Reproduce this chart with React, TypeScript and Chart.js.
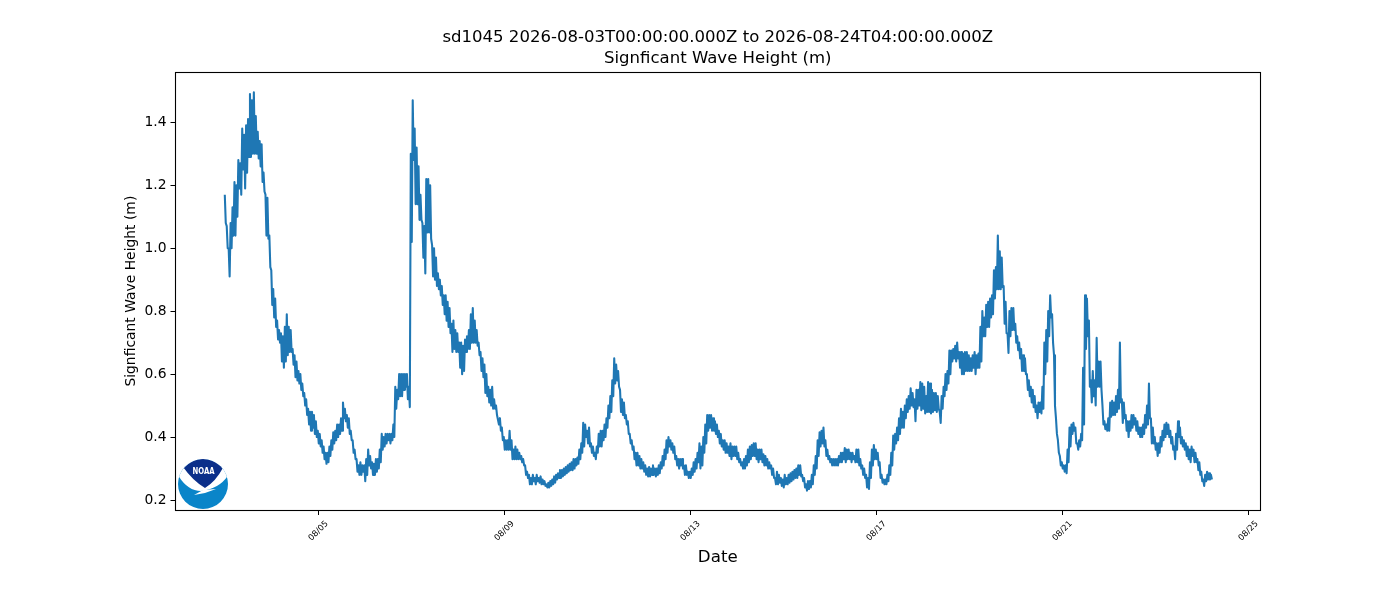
import React, { useEffect, useRef } from "react";
import { Chart, registerables } from "chart.js";

Chart.register(...registerables);

const titleLines = ["sd1045 2026-08-03T00:00:00.000Z to 2026-08-24T04:00:00.000Z", "Signficant Wave Height (m)"];
const xTitle = "Date";
const yTitle = "Signficant Wave Height (m)";
const tickDays = [5, 9, 13, 17, 21, 25];
const tickLabels = ["08/05", "08/09", "08/13", "08/17", "08/21", "08/25"];
const yTicks = [0.2, 0.4, 0.6, 0.8, 1.0, 1.2, 1.4];
const startDay = 2.974;

// half-hourly readings, high and low of the noisy band in turn
const aug03 = [1.17,1.08,1.07,1.00,1.00,0.91,1.08,1.00,1.13,1.04,1.21,1.04,1.20,1.10,1.28,1.19,1.27,1.17,1.38,1.25,1.36,1.19,1.39,1.24,1.41,1.29,1.49,1.29,1.47,1.30,1.495,1.30,1.42,1.30,1.37,1.285,1.34,1.26,1.33,1.21,1.24,1.18,1.17,1.04,1.16,1.03,1.04,0.94];
const aug04 = [.93,.82,.87,.78,.84,.75,.77,.71,.74,.70,.73,.64,.72,.62,.75,.64,.79,.66,.75,.67,.74,.67,.68,.63,.66,.59,.64,.58,.61,.57,.60,.55,.57,.53,.54,.50,.52,.47,.49,.44,.48,.42,.48,.43,.47,.41,.45,.40];
const aug05 = [.42,.38,.41,.37,.39,.35,.37,.33,.35,.315,.35,.32,.37,.34,.39,.36,.415,.38,.42,.39,.44,.40,.44,.41,.46,.42,.51,.46,.49,.45,.47,.43,.46,.41,.42,.39,.39,.35,.36,.33,.33,.29,.31,.28,.32,.28,.31,.29];
const aug06 = [.31,.26,.33,.28,.36,.31,.34,.30,.32,.28,.315,.28,.33,.29,.33,.30,.36,.32,.41,.36,.40,.37,.41,.38,.41,.39,.41,.38,.41,.39,.44,.40,.56,.49,.55,.52,.60,.53,.60,.53,.60,.55,.60,.56,.60,.52,.56,.495];
const aug07 = [1.30,1.02,1.47,1.28,1.38,1.14,1.32,1.14,1.26,1.09,1.17,1.09,1.08,.97,1.07,.92,1.22,1.05,1.22,1.05,1.20,1.03,1.01,.91,1.00,.90,.97,.88,.92,.87,.90,.85,.88,.82,.85,.79,.85,.77,.83,.75,.81,.73,.76,.67,.77,.68,.74,.67];
const aug08 = [.73,.67,.70,.62,.70,.60,.69,.61,.71,.67,.72,.68,.74,.68,.79,.70,.81,.70,.77,.70,.74,.69,.70,.66,.67,.61,.65,.59,.63,.54,.60,.53,.56,.51,.55,.50,.56,.49,.52,.49,.50,.47,.47,.44,.46,.42,.43,.39];
const aug09 = [.40,.36,.39,.36,.39,.36,.42,.36,.39,.33,.36,.33,.37,.33,.36,.33,.35,.33,.34,.32,.33,.31,.31,.28,.29,.27,.28,.25,.27,.25,.28,.26,.27,.25,.28,.26,.27,.255,.275,.25,.265,.25,.26,.245,.25,.24,.255,.24];
const aug10 = [.26,.245,.265,.25,.275,.255,.28,.265,.285,.27,.295,.27,.295,.275,.30,.28,.305,.285,.31,.29,.315,.295,.32,.295,.33,.30,.33,.31,.335,.315,.36,.33,.38,.35,.445,.37,.44,.40,.42,.38,.43,.37,.38,.35,.37,.34,.35,.33];
const aug11 = [.37,.35,.41,.37,.42,.37,.42,.39,.44,.40,.46,.43,.50,.46,.53,.48,.58,.53,.65,.57,.63,.58,.61,.56,.55,.48,.52,.47,.51,.46,.47,.44,.45,.41,.41,.38,.39,.36,.37,.33,.35,.31,.35,.31,.34,.30,.33,.30];
const aug12 = [.32,.29,.31,.28,.30,.275,.305,.275,.30,.28,.31,.28,.30,.275,.30,.28,.31,.285,.32,.30,.34,.31,.36,.33,.39,.35,.40,.37,.39,.36,.38,.35,.37,.33,.34,.31,.33,.30,.33,.31,.33,.30,.31,.28,.31,.28,.29,.27];
const aug13 = [.29,.27,.30,.28,.32,.29,.33,.30,.35,.32,.38,.30,.37,.31,.40,.35,.44,.38,.47,.42,.47,.43,.47,.42,.46,.42,.45,.41,.44,.40,.42,.38,.41,.37,.39,.36,.39,.35,.38,.35,.37,.34,.38,.33,.37,.34,.37,.34];
const aug14 = [.37,.33,.35,.32,.33,.31,.32,.30,.33,.30,.34,.31,.36,.32,.37,.33,.375,.34,.38,.34,.38,.33,.36,.32,.36,.33,.36,.32,.345,.31,.34,.31,.33,.30,.32,.30,.31,.28,.30,.27,.27,.25,.29,.25,.28,.255,.27,.245];
const aug15 = [.265,.24,.28,.25,.27,.25,.28,.255,.285,.26,.29,.265,.295,.27,.30,.27,.31,.28,.31,.275,.28,.26,.27,.24,.25,.23,.26,.235,.26,.24,.28,.25,.31,.28,.34,.30,.39,.34,.415,.37,.42,.38,.43,.37,.39,.34,.36,.33];
const aug16 = [.34,.32,.33,.31,.33,.31,.33,.31,.33,.31,.34,.32,.35,.32,.35,.33,.365,.32,.36,.33,.36,.33,.35,.32,.35,.33,.34,.32,.36,.32,.36,.31,.33,.30,.31,.28,.30,.27,.28,.24,.27,.235,.32,.27,.36,.31,.375,.33];
const aug17 = [.36,.33,.35,.31,.32,.27,.28,.255,.265,.25,.265,.25,.28,.26,.31,.28,.35,.31,.405,.36,.41,.38,.43,.39,.46,.41,.49,.43,.48,.43,.50,.46,.52,.48,.53,.49,.555,.50,.54,.495,.52,.45,.55,.49,.55,.50,.575,.485];
const aug18 = [.57,.49,.56,.475,.53,.48,.575,.48,.57,.475,.55,.48,.54,.485,.54,.48,.53,.49,.48,.445,.53,.49,.56,.53,.60,.55,.61,.57,.675,.60,.675,.64,.68,.65,.69,.64,.70,.65,.67,.62,.67,.60,.665,.60,.67,.61,.67,.61];
const aug19 = [.66,.61,.65,.61,.66,.62,.67,.60,.66,.62,.665,.62,.75,.64,.80,.72,.78,.72,.82,.75,.83,.75,.84,.78,.85,.79,.93,.84,.94,.87,1.04,.87,.99,.87,.97,.876,.88,.76,.83,.73,.73,.667,.80,.72,.81,.74,.81,.74];
const aug20 = [.76,.70,.72,.676,.70,.65,.68,.61,.66,.61,.65,.60,.60,.55,.58,.53,.56,.51,.55,.495,.53,.48,.50,.46,.51,.48,.51,.475,.56,.49,.70,.60,.74,.64,.80,.72,.85,.78,.79,.70,.66,.50,.46,.41,.39,.35,.34,.31];
const aug21 = [.32,.30,.31,.29,.31,.285,.36,.32,.43,.37,.44,.41,.445,.42,.43,.38,.38,.36,.39,.37,.41,.39,.62,.44,.85,.68,.84,.72,.77,.56,.58,.51,.61,.53,.58,.50,.715,.56,.64,.56,.64,.55,.50,.44,.45,.425,.44,.42];
const aug22 = [.46,.42,.51,.465,.515,.47,.51,.47,.53,.48,.55,.49,.70,.51,.52,.445,.51,.46,.47,.42,.45,.40,.45,.42,.47,.43,.47,.44,.46,.42,.45,.41,.43,.40,.43,.40,.44,.41,.47,.43,.50,.44,.57,.46,.46,.38,.43,.38];
const aug23 = [.40,.36,.38,.34,.38,.35,.40,.37,.42,.39,.44,.40,.445,.41,.44,.40,.42,.38,.40,.36,.37,.33,.41,.36,.45,.40,.43,.38,.40,.37,.39,.36,.38,.34,.37,.33,.36,.32,.37,.34,.36,.32,.35,.32,.33,.295,.32,.28];
const aug24 = [.29,.26,.265,.245,.28,.26,.29,.265,.285,.265,.28,.265];

const waveHeight = [...aug03,...aug04,...aug05,...aug06,...aug07,...aug08,...aug09,...aug10,...aug11,...aug12,...aug13,...aug14,...aug15,...aug16,...aug17,...aug18,...aug19,...aug20,...aug21,...aug22,...aug23,...aug24];

const FONT = '"DejaVu Sans", sans-serif';

const framePlugin = {
  id: "frame",
  afterDatasetsDraw(chart: any) {
    const { ctx, chartArea: a } = chart;
    const l = Math.floor(a.left) + 0.5, r = Math.floor(a.right) + 0.5;
    const t = Math.floor(a.top) + 0.5, b = Math.floor(a.bottom) + 0.5;
    ctx.save();
    ctx.strokeStyle = "#000";
    ctx.lineWidth = 1.1;
    ctx.strokeRect(l, t, r - l, b - t);
    ctx.restore();
  },
};

const logoPlugin = {
  id: "logo",
  afterDraw(chart: any) {
    const { ctx } = chart;
    const cx = 203, cy = 484, r = 25;
    ctx.save();
    ctx.beginPath();
    ctx.arc(cx, cy, r, 0, Math.PI * 2);
    ctx.fillStyle = "#0a85c9";
    ctx.fill();
    ctx.clip();
    ctx.beginPath();
    ctx.moveTo(170, 470);
    ctx.lineTo(178.5, 476);
    ctx.quadraticCurveTo(188, 491, 201, 491);
    ctx.quadraticCurveTo(220, 489, 229, 474);
    ctx.lineTo(232, 450);
    ctx.lineTo(170, 450);
    ctx.closePath();
    ctx.fillStyle = "#fff";
    ctx.fill();
    ctx.beginPath();
    ctx.moveTo(194, 495);
    ctx.lineTo(203, 490);
    ctx.lineTo(216, 489);
    ctx.lineTo(205, 493);
    ctx.closePath();
    ctx.fill();
    ctx.beginPath();
    const a1 = Math.atan2(466.5 - cy, 182.7 - cx);
    const a2 = Math.atan2(466.5 - cy, 225 - cx);
    ctx.arc(cx, cy, r, a1, a2);
    ctx.quadraticCurveTo(216, 481, 205, 488);
    ctx.quadraticCurveTo(193, 481, 182.7, 466.5);
    ctx.closePath();
    ctx.fillStyle = "#0b2f8a";
    ctx.fill();
    ctx.fillStyle = "#fff";
    ctx.font = "bold 8px " + FONT;
    ctx.textAlign = "center";
    ctx.textBaseline = "middle";
    ctx.fillText("NOAA", 203.5, 472, 22);
    ctx.restore();
  },
};

export default function App() {
  const ref = useRef<HTMLCanvasElement>(null);
  useEffect(() => {
    const points = waveHeight.map((y, i) => ({ x: startDay + i / 48, y }));
    const chart = new Chart(ref.current!, {
      type: "line",
      data: {
        datasets: [
          {
            data: points,
            borderColor: "#1f77b4",
            borderWidth: 2.08,
            borderJoinStyle: "round",
            pointRadius: 0,
            tension: 0,
            fill: false,
          },
        ],
      },
      plugins: [framePlugin, logoPlugin],
      options: {
        animation: false,
        responsive: false,
        devicePixelRatio: 1,
        layout: { padding: { right: 140, left: 0, top: 0, bottom: 0 } },
        plugins: {
          legend: { display: false },
          tooltip: { enabled: false },
          title: {
            display: true,
            text: titleLines,
            fullSize: false,
            color: "#000",
            font: { family: FONT, size: 16.55, weight: "normal", lineHeight: 1.26 },
            padding: { top: 27.5, bottom: 3.1 },
          },
        },
        scales: {
          x: {
            type: "linear",
            min: 1.914,
            max: 25.237,
            afterFit(scale: any) { scale.height = 90; },
            afterBuildTicks(scale: any) { scale.ticks = tickDays.map((value) => ({ value })); },
            grid: { drawOnChartArea: false, drawTicks: true, tickLength: 5, color: "#000", tickWidth: 1 },
            border: { display: false },
            title: {
              display: true,
              text: xTitle,
              color: "#000",
              font: { family: FONT, size: 16.67, weight: "normal" },
              padding: { top: 32, bottom: 32 },
            },
            ticks: {
              autoSkip: false,
              minRotation: 45,
              maxRotation: 45,
              color: "#000",
              font: { family: FONT, size: 8.33 },
              labelOffset: 8,
              padding: 4,
              callback: (_v: any, i: number) => tickLabels[i],
            },
          },
          y: {
            type: "linear",
            min: 0.1683,
            max: 1.5587,
            afterFit(scale: any) { scale.width = 175.5; },
            afterBuildTicks(scale: any) { scale.ticks = yTicks.map((value) => ({ value })); },
            grid: { drawOnChartArea: false, drawTicks: true, tickLength: 5, color: "#000", tickWidth: 1 },
            border: { display: false },
            title: {
              display: true,
              text: yTitle,
              color: "#000",
              font: { family: FONT, size: 13.89, weight: "normal" },
              padding: { top: 123, bottom: 0 },
            },
            ticks: {
              color: "#000",
              font: { family: FONT, size: 13.89 },
              padding: 4,
              callback: (v: any) => Number(v).toFixed(1),
            },
          },
        },
      },
    } as any);
    return () => chart.destroy();
  }, []);
  return (
    <div style={{ position: "absolute", left: 0, top: 0, width: 1400, height: 600, background: "#fff" }}>
      <canvas ref={ref} width={1400} height={600} style={{ display: "block" }} />
    </div>
  );
}
